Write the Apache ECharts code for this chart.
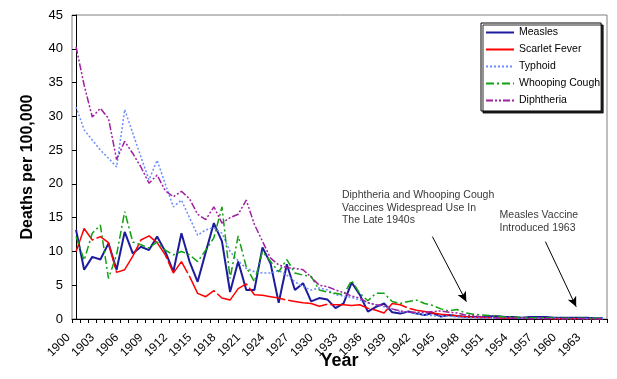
<!DOCTYPE html>
<html>
<head>
<meta charset="utf-8">
<script src="https://cdn.jsdelivr.net/npm/echarts/dist/echarts.min.js"></script>
<style>
html,body{margin:0;padding:0;background:#fff;}
#chart{width:617px;height:379px;}
</style>
</head>
<body>
<div id="chart"></div>
<script>
const years = ['1900','1901','1902','1903','1904','1905','1906','1907','1908','1909',
  '1910','1911','1912','1913','1914','1915','1916','1917','1918','1919',
  '1920','1921','1922','1923','1924','1925','1926','1927','1928','1929',
  '1930','1931','1932','1933','1934','1935','1936','1937','1938','1939',
  '1940','1941','1942','1943','1944','1945','1946','1947','1948','1949',
  '1950','1951','1952','1953','1954','1955','1956','1957','1958','1959',
  '1960','1961','1962','1963','1964','1965'];

const measles = [13.2, 7.3, 9.2, 8.8, 11.2, 7.3, 12.9, 9.7, 10.7, 10.2,
  12.2, 10.0, 7.0, 12.7, 8.5, 5.5, 9.9, 14.2, 11.5, 4.0,
  8.5, 4.3, 4.3, 10.6, 8.2, 2.4, 8.1, 4.3, 5.3, 2.6,
  3.1, 2.9, 1.6, 2.3, 5.4, 3.6, 1.1, 1.8, 2.3, 1.0,
  0.8, 1.1, 0.8, 0.6, 0.9, 0.35, 0.6, 0.45, 0.35, 0.3,
  0.3, 0.4, 0.4, 0.3, 0.3, 0.2, 0.3, 0.3, 0.3, 0.2,
  0.2, 0.2, 0.2, 0.2, 0.1, 0.1];

const scarletFever = [10.0, 13.4, 11.7, 12.2, 11.3, 6.9, 7.3, 9.3, 11.7, 12.3,
  11.3, 9.5, 6.8, 8.5, 6.3, 3.8, 3.3, 4.2, 3.1, 2.8,
  4.5, 5.2, 3.6, 3.5, 3.3, 3.1, 2.8, 2.6, 2.4, 2.3,
  1.9, 2.2, 2.1, 2.1, 2.0, 2.1, 1.6, 1.3, 0.9, 2.3,
  2.1, 1.6, 1.3, 1.1, 0.9, 0.7, 0.6, 0.45, 0.35, 0.25,
  0.2, 0.2, 0.15, 0.12, 0.1, 0.1, 0.08, 0.07, 0.06, 0.05,
  0.05, 0.05, 0.04, 0.04, 0.03, 0.03];

const typhoid = [31.4, 28.0, 26.5, 25.0, 23.8, 22.5, 31.0, 27.5, 24.0, 20.6,
  23.5, 20.0, 16.6, 17.6, 15.0, 12.4, 13.2, 13.5, 12.7, 10.0,
  8.6, 7.5, 7.0, 6.8, 6.8, 7.2, 6.5, 5.5, 4.8, 4.3,
  4.6, 4.3, 3.6, 3.4, 3.2, 2.8, 2.4, 2.1, 1.8, 1.5,
  1.1, 1.0, 0.8, 0.6, 0.5, 0.4, 0.4, 0.3, 0.2, 0.2,
  0.1, 0.1, 0.1, 0.1, 0.1, 0.1, 0.1, 0.1, 0.1, 0.1,
  0.05, 0.05, 0.05, 0.05, 0.05, 0.05];

const whoopingCough = [12.2, 8.7, 12.7, 13.9, 6.0, 9.5, 15.9, 11.4, 11.0, 10.5,
  11.4, 10.2, 9.5, 10.0, 9.5, 8.5, 10.2, 12.0, 16.6, 6.0,
  12.3, 7.7, 5.5, 10.0, 8.5, 7.0, 8.8, 6.8, 6.5, 6.3,
  4.3, 4.0, 3.8, 3.6, 5.7, 3.8, 2.7, 3.8, 3.8, 2.6,
  2.3, 2.6, 2.8, 2.3, 2.0, 1.5, 1.2, 1.4, 0.9, 0.7,
  0.6, 0.5, 0.4, 0.3, 0.3, 0.2, 0.2, 0.2, 0.15, 0.15,
  0.1, 0.1, 0.1, 0.1, 0.1, 0.05];

const diphtheria = [40.3, 34.6, 29.9, 31.2, 29.7, 23.6, 26.3, 24.5, 22.5, 20.1,
  21.3, 19.0, 18.1, 18.9, 17.8, 15.5, 14.7, 16.6, 14.2, 15.0,
  15.5, 17.6, 14.0, 11.5, 9.0, 8.0, 7.6, 7.5, 7.3, 6.2,
  5.0, 4.8, 4.3, 3.9, 3.4, 3.1, 2.4, 2.1, 2.0, 1.5,
  1.2, 1.0, 1.0, 1.0, 1.1, 1.2, 1.0, 0.9, 0.6, 0.5,
  0.35, 0.25, 0.15, 0.1, 0.1, 0.1, 0.05, 0.05, 0.05, 0.05,
  0.03, 0.03, 0.03, 0.03, 0.03, 0.03];

const seriesNames = ['Measles', 'Scarlet Fever', 'Typhoid', 'Whooping Cough', 'Diphtheria'];

// annotations in data units: [year index, deaths]
const note1Text = 'Diphtheria and Whooping Cough\nVaccines Widespread Use In\nThe Late 1940s';
const note1Pos = [32.8, 19.2];
const arrow1 = [[43.96, 12.2], [48.15, 2.56]];
const note2Text = 'Measles Vaccine\nIntroduced 1963';
const note2Pos = [52.25, 16.3];
const arrow2 = [[57.9, 11.45], [61.7, 1.8]];

const FONT = "'Liberation Sans', Arial, sans-serif";

function lineSeries(name, data, color, type, width) {
  return {
    name: name, type: 'line', data: data, symbol: 'none',
    lineStyle: { color: color, type: type, width: width },
    itemStyle: { color: color },
    emphasis: { disabled: true }, silent: true
  };
}

const chart = echarts.init(document.getElementById('chart'), null, { renderer: 'canvas' });
chart.setOption({
  animation: false,
  backgroundColor: '#fff',
  textStyle: { fontFamily: FONT },
  grid: { left: 72, right: 10, top: 15, bottom: 60, show: true, borderColor: '#808080', borderWidth: 1, containLabel: false },
  legend: {
    data: seriesNames,
    orient: 'vertical', left: 481, top: 23,
    itemWidth: 28, itemHeight: 10, itemGap: 6,
    padding: [4, 1, 5, 4],
    itemStyle: { opacity: 0, borderWidth: 0 },
    borderColor: '#000', borderWidth: 1, backgroundColor: '#fff',
    shadowColor: 'rgba(0,0,0,0.85)', shadowOffsetX: 2, shadowOffsetY: 2, shadowBlur: 0,
    textStyle: { fontSize: 10.5, color: '#000', fontFamily: FONT },
    selectedMode: false
  },
  xAxis: [{
    type: 'category', data: years, boundaryGap: true,
    axisLine: { show: true, lineStyle: { color: '#000', width: 1 } },
    axisTick: { show: true, interval: 0, length: 4, inside: false, lineStyle: { color: '#000' } },
    axisLabel: { interval: 2, rotate: 45, fontSize: 12, color: '#000', margin: 9, padding: [0, 11, 0, 0], fontFamily: FONT },
    splitLine: { show: false },
    name: 'Year', nameLocation: 'middle', nameGap: 33, nameMoveOverlap: false,
    nameTextStyle: { fontSize: 18, fontWeight: 'bold', color: '#000', fontFamily: FONT }
  }, {
    type: 'value', min: -0.5, max: 65.5, show: false, gridIndex: 0
  }],
  yAxis: {
    type: 'value', min: 0, max: 45, interval: 5,
    axisLine: { show: true, lineStyle: { color: '#000', width: 1 } },
    axisTick: { show: true, length: 4, inside: false, lineStyle: { color: '#000' } },
    axisLabel: { fontSize: 13, color: '#000', margin: 9, fontFamily: FONT },
    splitLine: { show: false },
    name: 'Deaths per 100,000', nameLocation: 'middle', nameGap: 36, nameMoveOverlap: false,
    nameTextStyle: { fontSize: 16, fontWeight: 'bold', color: '#000', fontFamily: FONT }
  },
  series: [
    lineSeries('Measles', measles, '#1c1c9c', 'solid', 2),
    lineSeries('Scarlet Fever', scarletFever, '#ff0000', [40, 3], 1.5),
    lineSeries('Typhoid', typhoid, '#6a8cff', [2, 2], 1.5),
    lineSeries('Whooping Cough', whoopingCough, '#10a010', [8, 3, 2, 3], 1.5),
    lineSeries('Diphtheria', diphtheria, '#a020a0', [7, 2, 2, 2, 2, 2], 1.5),
    {
      type: 'scatter', xAxisIndex: 1, yAxisIndex: 0, silent: true,
      symbolSize: 0, itemStyle: { color: 'transparent' },
      data: [note1Pos],
      label: { show: true, formatter: note1Text, position: [0, 0], align: 'left', verticalAlign: 'top',
        fontSize: 10.5, lineHeight: 12.5, color: '#000', fontFamily: FONT },
      markLine: {
        silent: true, symbol: ['none', 'arrow'], symbolSize: [7, 10],
        lineStyle: { color: '#000', type: 'solid', width: 1 },
        label: { show: false },
        data: [[{ coord: arrow1[0] }, { coord: arrow1[1] }], [{ coord: arrow2[0] }, { coord: arrow2[1] }]]
      }
    },
    {
      type: 'scatter', xAxisIndex: 1, yAxisIndex: 0, silent: true,
      symbolSize: 0, itemStyle: { color: 'transparent' },
      data: [note2Pos],
      label: { show: true, formatter: note2Text, position: [0, 0], align: 'left', verticalAlign: 'top',
        fontSize: 10.5, lineHeight: 12.5, color: '#000', fontFamily: FONT }
    }
  ]
});
</script>
</body>
</html>
